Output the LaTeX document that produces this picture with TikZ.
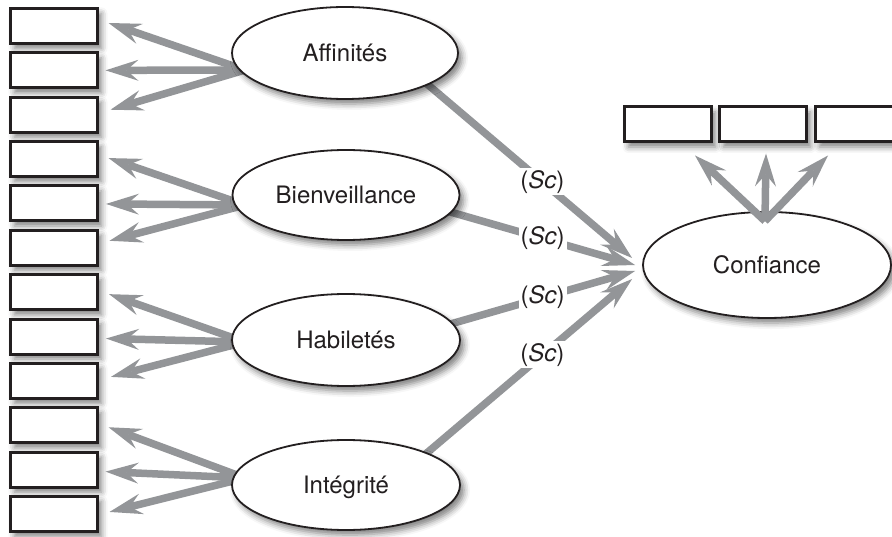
\documentclass[tikz,border=0pt]{standalone}
\usepackage{fontspec}
\setmainfont{TeX Gyre Heros}
\usetikzlibrary{arrows.meta,shapes.geometric,shadows.blur,calc}
\definecolor{linkgray}{HTML}{939598}
\definecolor{ink}{HTML}{231F20}
\tikzset{
  softshadow/.style={blur shadow={shadow xshift=4pt, shadow yshift=-5pt,
      shadow blur radius=6pt, shadow opacity=50}},
  itembox/.style={draw=ink, line width=3pt, fill=white, minimum width=87pt,
      minimum height=35pt, inner sep=0pt, softshadow},
  factor/.style={ellipse, draw=ink, line width=1.8pt, fill=white, inner sep=0pt,
      font=\fontsize{24}{27}\selectfont, text=ink, text height=17pt,
      text depth=0pt, softshadow},
  link/.style={draw=linkgray, line width=7.5pt,
      -{Stealth[length=33pt, width=21pt, inset=12pt, line width=0pt]}},
  sclabel/.style={fill=white, inner sep=2pt, text=ink,
      font=\fontsize{24}{27}\selectfont}
}
\begin{document}
\begin{tikzpicture}[x=1pt, y=-1pt]
\useasboundingbox (0,0) rectangle (892,537);

% indicator boxes on the left
\foreach \i in {1,...,12}
  \node[itembox] (b\i) at (54, {26+44.36*(\i-1)}) {};

% indicator boxes of the trust factor
\node[itembox] (t1) at (668,124.5) {};
\node[itembox] (t2) at (763,124.5) {};
\node[itembox] (t3) at (859,124.5) {};

% centres of the factors, used before the ellipses are drawn
\coordinate (affc) at (345,53);
\coordinate (bienc) at (346,195);
\coordinate (habc) at (346,340);
\coordinate (intc) at (346,485);
\coordinate (confc) at (767,265);

% Confiance node first, so that the links can end on it
\node[factor, minimum width=248pt, minimum height=106pt] (conf) at (confc) {Confiance};

% links from each factor to its indicators
\draw[link] ($(affc)+(-100,17)$) -- ($(b1.east)+(9.5,-3)$);
\draw[link] ($(affc)+(-100,17)$) -- ($(b2.east)+(6.5,0)$);
\draw[link] ($(affc)+(-100,17)$) -- ($(b3.east)+(11.5,-5)$);

\draw[link] ($(bienc)+(-101,10)$) -- ($(b4.east)+(9.5,-1)$);
\draw[link] ($(bienc)+(-101,10)$) -- ($(b5.east)+(7,0.5)$);
\draw[link] ($(bienc)+(-101,10)$) -- ($(b6.east)+(10.5,-7)$);

\draw[link] ($(habc)+(-101,2)$) -- ($(b7.east)+(10,2)$);
\draw[link] ($(habc)+(-101,2)$) -- ($(b8.east)+(7,2)$);
\draw[link] ($(habc)+(-101,2)$) -- ($(b9.east)+(12,-4)$);

\draw[link] ($(intc)+(-101,-7)$) -- ($(b10.east)+(9.5,2)$);
\draw[link] ($(intc)+(-101,-7)$) -- ($(b11.east)+(6.5,2)$);
\draw[link] ($(intc)+(-101,-7)$) -- ($(b12.east)+(10.5,-2)$);

% links from Confiance to its indicators
\draw[link] ($(conf.north)+(-2,10)$) -- ($(t1.south)+(27,12)$);
\draw[link] ($(conf.north)+(-2,10)$) -- ($(t2.south)+(3,10)$);
\draw[link] ($(conf.north)+(-2,10)$) -- ($(t3.south)+(-31,12)$);

% structural paths towards Confiance
\draw[link] ($(affc)+(75,25)$) -- ($(conf.west)+(-10,-7)$)
  node[sclabel, pos=0.577] (s1) {(\textit{Sc})};
\draw[link] ($(bienc)+(94,14)$) -- ($(conf.west)+(-7,0)$)
  node[sclabel, pos=0.526] (s2) {(\textit{Sc})};
\draw[link] ($(habc)+(94,-13)$) -- ($(conf.west)+(-7,6)$)
  node[sclabel, pos=0.526] (s3) {(\textit{Sc})};
\draw[link] ($(intc)+(69,-22)$) -- ($(conf.west)+(-10,14)$)
  node[sclabel, pos=0.587] (s4) {(\textit{Sc})};

% the factors
\node[factor, minimum width=226pt, minimum height=92pt] (aff) at (affc) {Affinités};
\node[factor, minimum width=227pt, minimum height=90pt] (bien) at (bienc) {Bienveillance};
\node[factor, minimum width=228pt, minimum height=92pt] (hab) at (habc) {Habiletés};
\node[factor, minimum width=228pt, minimum height=90pt] (int) at (intc) {Intégrité};
\end{tikzpicture}
\end{document}
